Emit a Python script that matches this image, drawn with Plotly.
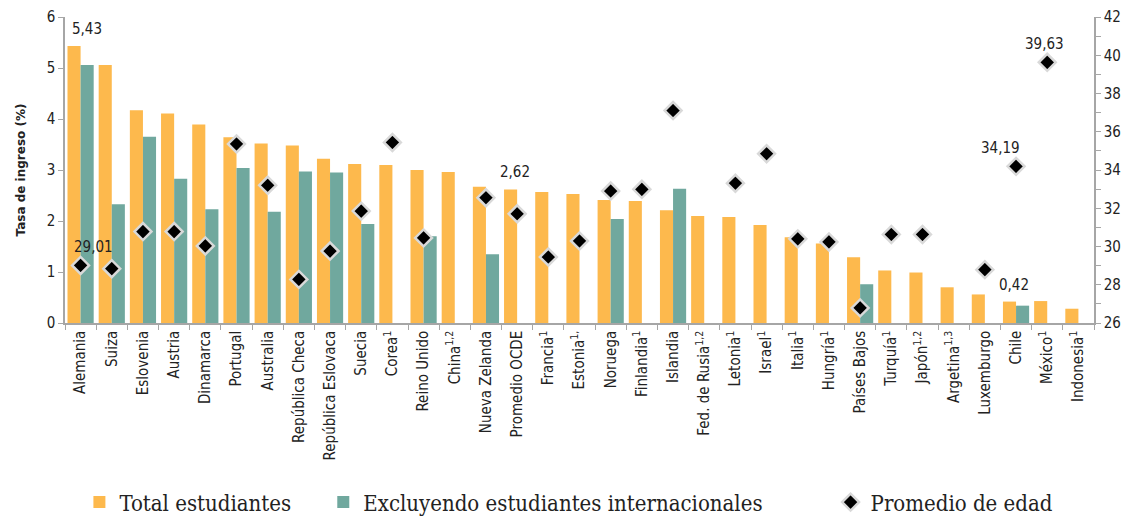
import plotly.graph_objects as go

categories = ["Alemania", "Suiza", "Eslovenia", "Austria", "Dinamarca", "Portugal", "Australia",
              "República Checa", "República Eslovaca", "Suecia", "Corea", "Reino Unido", "China",
              "Nueva Zelanda", "Promedio OCDE", "Francia", "Estonia", "Noruega", "Finlandia",
              "Islandia", "Fed. de Rusia", "Letonia", "Israel", "Italia", "Hungría", "Países Bajos",
              "Turquía", "Japón", "Argetina", "Luxemburgo", "Chile", "México", "Indonesia"]

tick_labels = ["Alemania", "Suiza", "Eslovenia", "Austria", "Dinamarca", "Portugal", "Australia",
               "República Checa", "República Eslovaca", "Suecia", "Corea<sup>1</sup>", "Reino Unido",
               "China<sup>1,2</sup>", "Nueva Zelanda", "Promedio OCDE", "Francia<sup>1</sup>",
               "Estonia<sup>1,</sup>", "Noruega", "Finlandia<sup>1</sup>", "Islandia",
               "Fed. de Rusia<sup>1,2</sup>", "Letonia<sup>1</sup>", "Israel<sup>1</sup>",
               "Italia<sup>1</sup>", "Hungría<sup>1</sup>", "Países Bajos", "Turquía<sup>1</sup>",
               "Japón<sup>1,2</sup>", "Argetina<sup>1,3</sup>", "Luxemburgo", "Chile",
               "México<sup>1</sup>", "Indonesia<sup>1</sup>"]

total_estudiantes = [5.43, 5.06, 4.17, 4.11, 3.89, 3.64, 3.52, 3.48, 3.22, 3.12, 3.10, 3.00, 2.96,
                     2.67, 2.62, 2.57, 2.53, 2.41, 2.39, 2.21, 2.10, 2.08, 1.92, 1.68, 1.56, 1.29,
                     1.03, 0.99, 0.70, 0.56, 0.42, 0.43, 0.28]

excluyendo_internacionales = [5.06, 2.33, 3.65, 2.83, 2.23, 3.04, 2.18, 2.97, 2.95, 1.94, None, 1.70,
                              None, 1.35, None, None, None, 2.04, None, 2.63, None, None, None,
                              None, None, 0.76, None, None, None, None, 0.34, None, None]

promedio_edad = [29.01, 28.84, 30.78, 30.78, 30.03, 35.36, 33.20, 28.28, 29.76, 31.85, 35.44, 30.45,
                 None, 32.55, 31.71, 29.45, 30.29, 32.90, 32.99, 37.11, None, 33.31, 34.85, 30.40,
                 30.24, 26.79, 30.63, 30.63, None, 28.79, 34.19, 39.63, None]

# labels: (category index, shown text)
bar_labels = [(0, "5,43"), (14, "2,62"), (30, "0,42")]
age_labels = [(0, "29,01", 13), (30, "34,19", -16), (31, "39,63", -3)]

ORANGE = "#FDB94D"
TEAL = "#70A89E"
AXIS = "#A6A6A6"
TICK_FONT = '"DejaVu Sans Condensed", "DejaVu Sans", sans-serif'
LEGEND_FONT = '"DejaVu Serif Condensed", "DejaVu Serif", serif'

fig = go.Figure()
fig.add_trace(go.Bar(x=categories, y=total_estudiantes, name="Total estudiantes",
                     legend="legend", showlegend=True,
                     marker=dict(color=ORANGE, line=dict(width=0))))
fig.add_trace(go.Bar(x=categories, y=excluyendo_internacionales,
                     name="Excluyendo estudiantes internacionales", legend="legend2",
                     showlegend=True,
                     marker=dict(color=TEAL, line=dict(width=0))))
fig.add_trace(go.Scatter(x=categories, y=promedio_edad, name="Promedio de edad", yaxis="y2",
                         mode="markers", legend="legend3", showlegend=True,
                         marker=dict(symbol="diamond", size=13, color="black",
                                     line=dict(color="#D9D9D9", width=2.5))))

annotations = []
for i, txt in bar_labels:
    annotations.append(dict(x=categories[i], y=total_estudiantes[i], xref="x", yref="y",
                            text=txt, showarrow=False, yanchor="bottom", yshift=6,
                            xshift=6 if i == 0 else -2,
                            font=dict(family=TICK_FONT, size=15, color="#222")))
for i, txt, dx in age_labels:
    annotations.append(dict(x=categories[i], y=promedio_edad[i], xref="x", yref="y2",
                            text=txt, showarrow=False, yanchor="bottom", yshift=7, xshift=dx,
                            font=dict(family=TICK_FONT, size=15, color="#222")))

legend_common = dict(orientation="h", y=-0.586, yanchor="middle", xanchor="left",
                     font=dict(family=LEGEND_FONT, size=22, color="#222"),
                     bgcolor="rgba(0,0,0,0)", itemwidth=30)

fig.update_layout(
    width=1132, height=517,
    showlegend=True,
    margin=dict(l=65, r=38, t=17, b=194, autoexpand=False),
    plot_bgcolor="white", paper_bgcolor="white",
    barmode="group", bargap=0.16, bargroupgap=0.0,
    font=dict(family=TICK_FONT, size=14, color="#222"),
    xaxis=dict(tickmode="array", tickvals=categories, ticktext=tick_labels, tickangle=-90,
               range=[-0.5, len(categories) - 0.5], autorange=False,
               tickson="boundaries", ticks="outside", ticklen=5, tickcolor=AXIS,
               showline=True, linecolor=AXIS, linewidth=1.5, showgrid=False, automargin=False,
               tickfont=dict(family=TICK_FONT, size=15, color="#222")),
    yaxis=dict(range=[0, 6], dtick=1, showgrid=False, zeroline=False, showline=True,
               linecolor=AXIS, linewidth=1.5, ticks="outside", ticklen=5, tickcolor=AXIS,
               automargin=False,
               tickfont=dict(family=TICK_FONT, size=15, color="#222"),
               title=dict(text="<b>Tasa de ingreso (%)</b>", standoff=18,
                          font=dict(family="DejaVu Sans", size=12, color="#222"))),
    yaxis2=dict(range=[26, 42], dtick=2, overlaying="y", side="right", showgrid=False,
                zeroline=False, showline=True, linecolor=AXIS, linewidth=1.5,
                ticks="outside", ticklen=5, tickcolor=AXIS, automargin=False,
                minor=dict(dtick=1, ticks="outside", ticklen=5, tickcolor=AXIS),
                tickfont=dict(family=TICK_FONT, size=15, color="#222")),
    legend=dict(x=0.014, **legend_common),
    legend2=dict(x=0.251, **legend_common),
    legend3=dict(x=0.744, **legend_common),
    annotations=annotations,
)

fig.write_html("out.html")
